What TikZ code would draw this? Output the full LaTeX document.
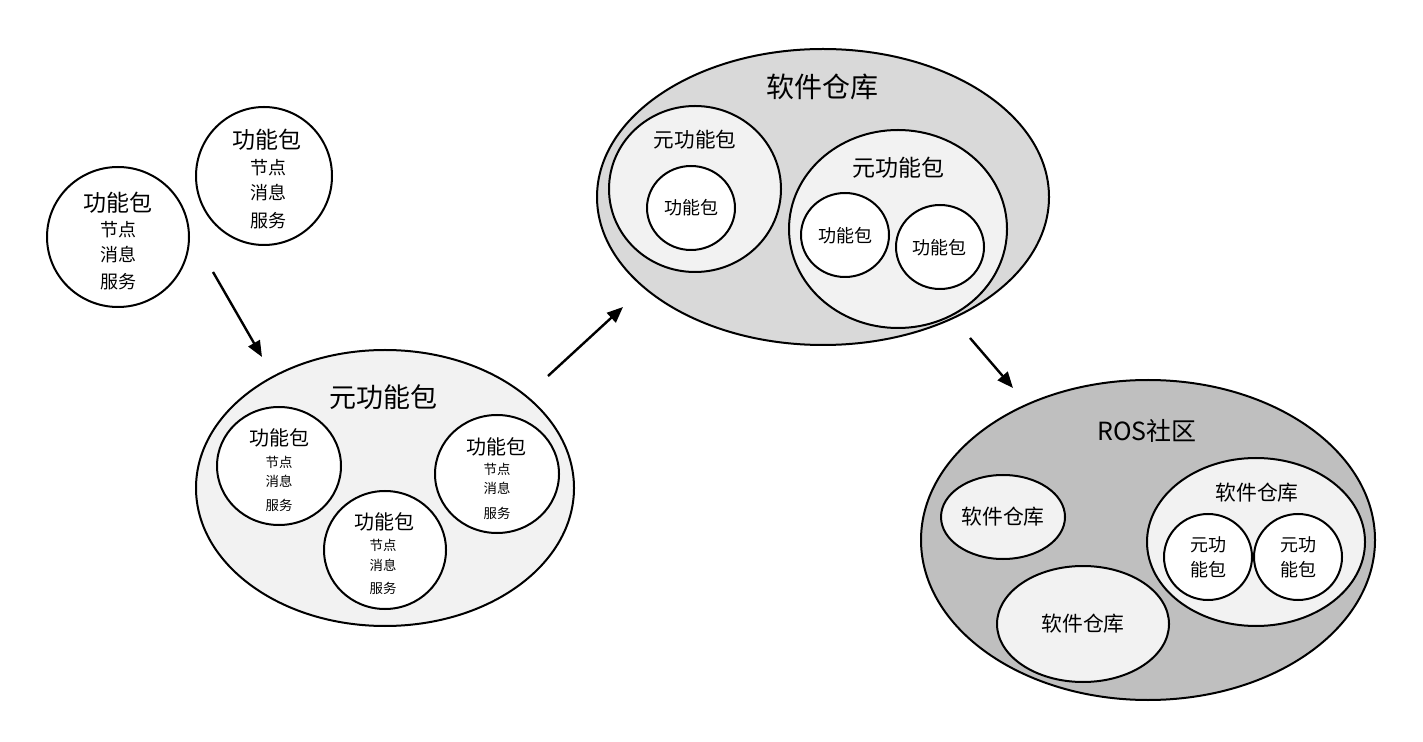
\documentclass[tikz,border=0pt]{standalone}
\usepackage{fontspec}
\setmainfont{Noto Sans CJK SC}
\usetikzlibrary{shapes.geometric,arrows.meta}
\definecolor{fillA}{HTML}{F2F2F2}
\definecolor{fillB}{HTML}{D9D9D9}
\definecolor{fillC}{HTML}{BFBFBF}
\begin{document}
\begin{tikzpicture}[x=0.5pt,y=-0.5pt,
  el/.style n args={2}{ellipse,draw,line width=1pt,inner sep=0pt,outer sep=0pt,minimum width=#1pt,minimum height=#2pt},
  fz/.style={font=\fontsize{#1pt}{#1pt}\selectfont,inner sep=0pt},
  arr/.style={line width=1.2pt,-{Triangle[length=8pt,width=6.5pt]}}]
\useasboundingbox (0,0) rectangle (1423,742);

% standalone packages
\node[el={71}{70},fill=white] (p1) at (118,237) {};
\node[fz=11.5] (p1t) at (118,203) {功能包};
\node[fz=9] (p1a) at (118,230) {节点};
\node[fz=9] (p1b) at (118,255) {消息};
\node[fz=9] (p1c) at (118,282) {服务};

\node[el={68}{69},fill=white] (p2) at (264,176) {};
\node[fz=11.5] (p2t) at (267,140) {功能包};
\node[fz=9] (p2a) at (268,168) {节点};
\node[fz=9] (p2b) at (268,193) {消息};
\node[fz=9] (p2c) at (268,221) {服务};

% metapackage
\node[el={189}{138},fill=fillA] (m) at (385,488) {};
\node[fz=13.5] (mt) at (383,397) {元功能包};
\node[el={62}{59},fill=white] (ma) at (279,466) {};
\node[fz=10] (mat) at (279,438) {功能包};
\node[fz=6.7] (maa) at (279,462) {节点};
\node[fz=6.7] (mab) at (279,481) {消息};
\node[fz=6.7] (mac) at (279,505) {服务};
\node[el={62}{59},fill=white] (mb) at (497,474) {};
\node[fz=10] (mbt) at (496,447) {功能包};
\node[fz=6.7] (mba) at (497,469) {节点};
\node[fz=6.7] (mbb) at (497,488) {消息};
\node[fz=6.7] (mbc) at (497,513) {服务};
\node[el={61}{59},fill=white] (mc) at (385,550) {};
\node[fz=10] (mct) at (384,522) {功能包};
\node[fz=6.7] (mca) at (383,545) {节点};
\node[fz=6.7] (mcb) at (383,565) {消息};
\node[fz=6.7] (mcc) at (383,588) {服务};

% repository
\node[el={226}{148},fill=fillB] (r) at (823,197) {};
\node[fz=14] (rt) at (822,87) {软件仓库};
\node[el={86}{83},fill=fillA] (ra) at (695,189) {};
\node[fz=10.3] (rat) at (695,140) {元功能包};
\node[el={44}{42},fill=white] (raa) at (691,208) {};
\node[fz=9] (raat) at (691,208) {功能包};
\node[el={109}{99},fill=fillA] (rb) at (898,229) {};
\node[fz=11.5] (rbt) at (898,168) {元功能包};
\node[el={44}{42},fill=white] (rba) at (845,235) {};
\node[fz=9] (rbat) at (845,236) {功能包};
\node[el={44}{42},fill=white] (rbb) at (940,247) {};
\node[fz=9] (rbbt) at (939,248) {功能包};

% ROS community
\node[el={227}{160},fill=fillC] (c) at (1148,540) {};
\node[fz=12.5] (ct) at (1147,431) {ROS社区};
\node[el={62}{42},fill=fillA] (ca) at (1003,517) {};
\node[fz=10.4] (cat) at (1003,517) {软件仓库};
\node[el={86}{58},fill=fillA] (cb) at (1083,624) {};
\node[fz=10.4] (cbt) at (1083,624) {软件仓库};
\node[el={109}{84},fill=fillA] (cc) at (1256,542) {};
\node[fz=10.4] (cct) at (1257,493) {软件仓库};
\node[el={44}{43},fill=white] (cca) at (1208,557) {};
\node[fz=9] (ccat) at (1208,545) {元功};
\node[fz=9] (ccab) at (1208,570) {能包};
\node[el={44}{43},fill=white] (ccb) at (1298,557) {};
\node[fz=9] (ccbt) at (1298,545) {元功};
\node[fz=9] (ccbb) at (1298,570) {能包};

% arrows
\coordinate (a1s) at (213,272);
\coordinate (a1e) at (262,357);
\coordinate (a2s) at (548,376);
\coordinate (a2e) at (623,307);
\coordinate (a3s) at (970,338);
\coordinate (a3e) at (1013,388);
\draw[arr] (a1s) -- (a1e);
\draw[arr] (a2s) -- (a2e);
\draw[arr] (a3s) -- (a3e);
\end{tikzpicture}
\end{document}
